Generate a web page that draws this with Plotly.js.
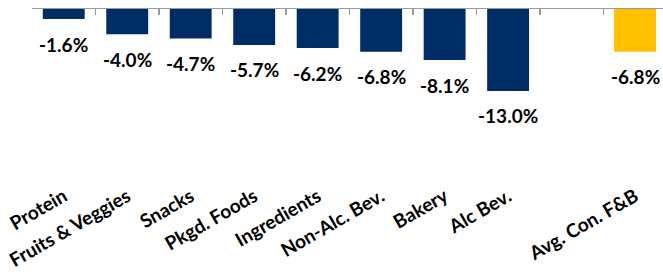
<!DOCTYPE html>
<html>
<head>
<meta charset="utf-8">
<script src="https://cdn.plot.ly/plotly-3.0.1.min.js"></script>
<style>html,body{margin:0;padding:0;background:#fff;}#chart{width:663px;height:279px;}</style>
</head>
<body>
<div id="chart"></div>
<script>
const categories = ['Protein','Fruits & Veggies','Snacks','Pkgd. Foods','Ingredients','Non-Alc. Bev.','Bakery','Alc Bev.',' ','Avg. Con. F&B'];
const values = [-1.6,-4.0,-4.7,-5.7,-6.2,-6.8,-8.1,-13.0,null,-6.8];
const valueLabels = ['-1.6%','-4.0%','-4.7%','-5.7%','-6.2%','-6.8%','-8.1%','-13.0%','','-6.8%'];
const highlightCategory = 'Avg. Con. F&B';

const NAVY = '#002D66', GOLD = '#FFC000';
const colors = categories.map(c => c === highlightCategory ? GOLD : NAVY);
const fontFamily = 'Lato, "Open Sans", sans-serif';

const bars = {
  type: 'bar', x: categories, y: values, xaxis: 'x', yaxis: 'y',
  marker: {color: colors}, hoverinfo: 'skip', showlegend: false
};
const labelAxisTrace = {
  type: 'scatter', mode: 'markers', x: categories, y: values, xaxis: 'x2', yaxis: 'y',
  marker: {opacity: 0}, hoverinfo: 'skip', showlegend: false
};

const annotations = categories.map((c, i) => values[i] === null ? null : ({
  x: c, y: values[i], xref: 'x', yref: 'y', text: valueLabels[i], showarrow: false,
  yanchor: 'middle', yshift: -25,
  font: {family: fontFamily, size: 19, weight: 700, color: '#000'}
})).filter(a => a);

const layout = {
  width: 663, height: 279,
  margin: {l: 32, r: 0, t: 9, b: 98},
  paper_bgcolor: '#fff', plot_bgcolor: '#fff',
  bargap: 0.34,
  xaxis: {
    type: 'category', side: 'top', range: [-0.5, 9.44],
    showline: true, linecolor: '#9a9a9a', linewidth: 1.5,
    ticks: 'inside', tickson: 'boundaries', ticklen: 6, tickcolor: '#9a9a9a', tickwidth: 1.5,
    showticklabels: false, showgrid: false, zeroline: false, fixedrange: true
  },
  xaxis2: {
    type: 'category', overlaying: 'x', matches: 'x', side: 'bottom', anchor: 'y',
    showline: false, ticks: '', showgrid: false, zeroline: false,
    tickangle: -30,
    tickfont: {family: fontFamily, size: 19, weight: 700, color: '#000'}
  },
  yaxis: {range: [-27.3, 0], visible: false, fixedrange: true},
  annotations: annotations
};

Plotly.newPlot('chart', [bars, labelAxisTrace], layout, {displayModeBar: false, staticPlot: true});
</script>
</body>
</html>
